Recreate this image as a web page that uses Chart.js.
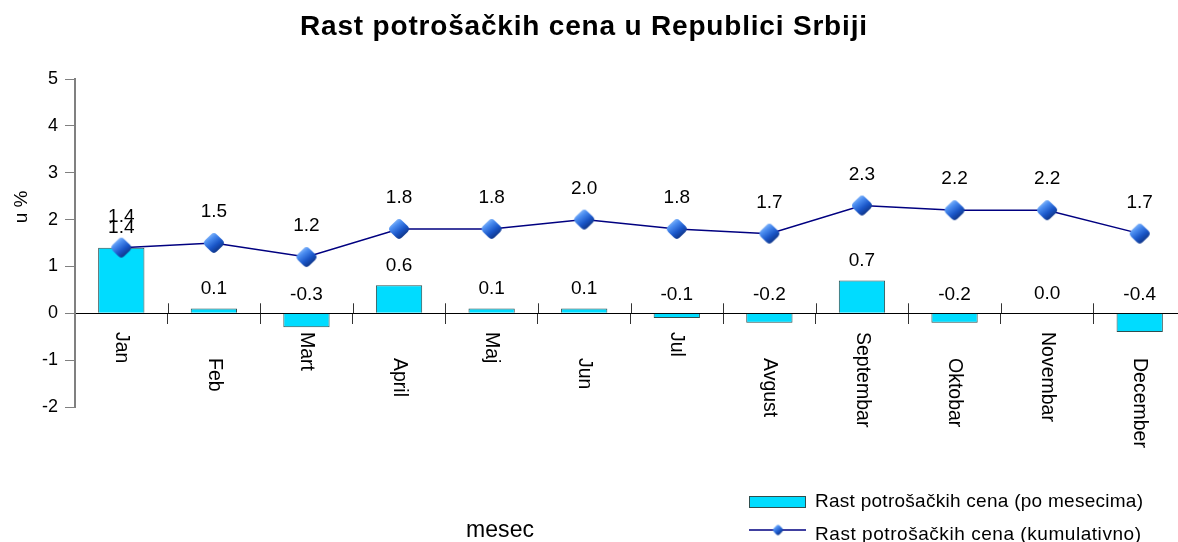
<!DOCTYPE html>
<html>
<head>
<meta charset="utf-8">
<script src="https://cdn.jsdelivr.net/npm/chart.js@4/dist/chart.umd.min.js"></script>
<style>
  html, body { margin: 0; padding: 0; background: #fff; overflow: hidden; }
  #wrap { width: 1186px; height: 542px; }
</style>
</head>
<body>
<div id="wrap"><canvas id="c" width="1186" height="542"></canvas></div>
<script>
// ---- data ----
const months = ['Jan','Feb','Mart','April','Maj','Jun','Jul','Avgust','Septembar','Oktobar','Novembar','December'];
const monthly = [1.4, 0.1, -0.3, 0.6, 0.1, 0.1, -0.1, -0.2, 0.7, -0.2, 0.0, -0.4];
const cumulative = [1.4, 1.5, 1.2, 1.8, 1.8, 2.0, 1.8, 1.7, 2.3, 2.2, 2.2, 1.7];
const yTicks = [-2, -1, 0, 1, 2, 3, 4, 5];
const titleText = 'Rast potrošačkih cena u Republici Srbiji';
const seriesNames = ['Rast potrošačkih cena (po mesecima)', 'Rast potrošačkih cena (kumulativno)'];
const yTitle = 'u %';
const xTitle = 'mesec';

const FONT = '"Liberation Sans", Arial, sans-serif';
const BAR_COLOR = '#00DCFF';
const BAR_BORDER = '#2F4F4F';
const LINE_COLOR = '#000080';

function makeDiamond(size) {
  const c = document.createElement('canvas');
  c.width = size; c.height = size;
  const g = c.getContext('2d');
  const h = size / 2, r = h - 0.5, k = size * 0.12;
  g.beginPath();
  g.moveTo(h - k, h - r + k);
  g.quadraticCurveTo(h, h - r, h + k, h - r + k);
  g.lineTo(h + r - k, h - k);
  g.quadraticCurveTo(h + r, h, h + r - k, h + k);
  g.lineTo(h + k, h + r - k);
  g.quadraticCurveTo(h, h + r, h - k, h + r - k);
  g.lineTo(h - r + k, h + k);
  g.quadraticCurveTo(h - r, h, h - r + k, h - k);
  g.closePath();
  const grad = g.createLinearGradient(size * 0.2, size * 0.1, size * 0.8, size * 0.9);
  grad.addColorStop(0, '#a8d0ff');
  grad.addColorStop(0.3, '#4a8cf0');
  grad.addColorStop(0.6, '#1a56c8');
  grad.addColorStop(1, '#0a2466');
  g.fillStyle = grad;
  g.fill();
  return c;
}
const diamond = makeDiamond(24);
const diamondSmall = makeDiamond(13);

function fitText(ctx, text, left, baseline, width) {
  ctx.letterSpacing = '0px';
  const w = ctx.measureText(text).width;
  const n = Math.max(text.length - 1, 1);
  const ls = (width - w) / n;
  ctx.letterSpacing = ls + 'px';
  ctx.textAlign = 'left';
  ctx.textBaseline = 'alphabetic';
  ctx.fillText(text, left, baseline);
  ctx.letterSpacing = '0px';
}

const deco = {
  id: 'deco',
  afterDatasetsDraw(chart) {
    const ctx = chart.ctx;
    const xs = chart.scales.x, ys = chart.scales.y;
    const y0 = ys.getPixelForValue(0);
    ctx.save();
    // upper halves of category tick marks
    const half = (xs.getPixelForValue(1) - xs.getPixelForValue(0)) / 2;
    ctx.strokeStyle = '#333';
    ctx.lineWidth = 1;
    for (let i = 1; i < months.length; i++) {
      const x = Math.round(xs.getPixelForValue(i) - half) + 0.5;
      ctx.beginPath();
      ctx.moveTo(x, y0 - 10);
      ctx.lineTo(x, y0);
      ctx.stroke();
    }
    // data labels
    ctx.fillStyle = '#000';
    ctx.font = '19px ' + FONT;
    ctx.textAlign = 'center';
    ctx.textBaseline = 'middle';
    const barMeta = chart.getDatasetMeta(0);
    barMeta.data.forEach((el, i) => {
      const top = Math.min(el.y, el.base);
      ctx.fillText(monthly[i].toFixed(1), el.x, top - 19.5);
    });
    const lineMeta = chart.getDatasetMeta(1);
    lineMeta.data.forEach((el, i) => {
      ctx.fillText(cumulative[i].toFixed(1), el.x, el.y - 31);
    });
    // category labels (rotated clockwise, staggered)
    ctx.font = '19.5px ' + FONT;
    ctx.textAlign = 'left';
    ctx.textBaseline = 'middle';
    months.forEach((m, i) => {
      const x = xs.getPixelForValue(i);
      const y = i % 2 === 0 ? 332 : 358;
      ctx.save();
      ctx.translate(x, y);
      ctx.rotate(Math.PI / 2);
      ctx.fillText(m, 0, 0);
      ctx.restore();
    });
    ctx.restore();
  },
  afterDraw(chart) {
    const ctx = chart.ctx;
    ctx.save();
    ctx.fillStyle = '#000';
    // title
    ctx.font = 'bold 28px ' + FONT;
    fitText(ctx, titleText, 300, 35, 567);
    // y title
    ctx.font = '19px ' + FONT;
    ctx.save();
    ctx.translate(22, 207);
    ctx.rotate(-Math.PI / 2);
    ctx.textAlign = 'center';
    ctx.textBaseline = 'middle';
    ctx.fillText(yTitle, 0, 0);
    ctx.restore();
    // x title
    ctx.font = '23px ' + FONT;
    fitText(ctx, xTitle, 466, 537, 68);
    // legend
    ctx.fillStyle = BAR_COLOR;
    ctx.fillRect(749.5, 496.5, 56, 11);
    ctx.strokeStyle = BAR_BORDER;
    ctx.lineWidth = 1;
    ctx.strokeRect(749.5, 496.5, 56, 11);
    ctx.strokeStyle = LINE_COLOR;
    ctx.lineWidth = 1.5;
    ctx.beginPath();
    ctx.moveTo(749, 530);
    ctx.lineTo(806, 530);
    ctx.stroke();
    ctx.drawImage(diamondSmall, 778 - 6.5, 530 - 6.5);
    ctx.fillStyle = '#000';
    ctx.font = '19px ' + FONT;
    fitText(ctx, seriesNames[0], 815, 507, 328);
    fitText(ctx, seriesNames[1], 815, 540, 326);
    ctx.restore();
  }
};

new Chart(document.getElementById('c'), {
  data: {
    labels: months,
    datasets: [
      {
        type: 'bar',
        label: seriesNames[0],
        data: monthly,
        backgroundColor: BAR_COLOR,
        borderColor: BAR_BORDER,
        borderWidth: 1,
        barPercentage: 1,
        categoryPercentage: 0.5,
        order: 2
      },
      {
        type: 'line',
        label: seriesNames[1],
        data: cumulative,
        borderColor: LINE_COLOR,
        borderWidth: 1.5,
        tension: 0,
        pointStyle: diamond,
        pointRadius: 12,
        pointHoverRadius: 12,
        order: 1
      }
    ]
  },
  options: {
    responsive: false,
    animation: false,
    devicePixelRatio: 1,
    layout: { autoPadding: false, padding: { top: 79, left: 0, right: 0, bottom: 135 } },
    plugins: {
      legend: { display: false },
      title: { display: false },
      tooltip: { enabled: false }
    },
    scales: {
      x: {
        type: 'category',
        position: { y: 0 },
        offset: true,
        afterFit(scale) { scale.paddingLeft = 0; scale.paddingRight = 0; scale.paddingTop = 0; scale.paddingBottom = 0; },
        ticks: { display: false },
        grid: {
          offset: true,
          drawOnChartArea: false,
          drawTicks: true,
          tickLength: 10,
          color: '#333',
          tickColor: '#333'
        },
        border: { display: true, color: '#000', width: 1 }
      },
      y: {
        type: 'linear',
        position: 'left',
        min: yTicks[0],
        max: yTicks[yTicks.length - 1],
        afterBuildTicks(scale) { scale.ticks = yTicks.map(v => ({ value: v })); },
        afterFit(scale) { scale.width = 75; scale.paddingRight = 0; scale.paddingLeft = 0; },
        ticks: {
          padding: 7,
          color: '#000',
          font: { family: FONT, size: 18 }
        },
        grid: {
          drawOnChartArea: false,
          tickLength: 10,
          tickColor: '#808080',
          color: '#808080'
        },
        border: { display: true, color: '#808080', width: 2 }
      }
    }
  },
  plugins: [deco]
});
</script>
</body>
</html>
